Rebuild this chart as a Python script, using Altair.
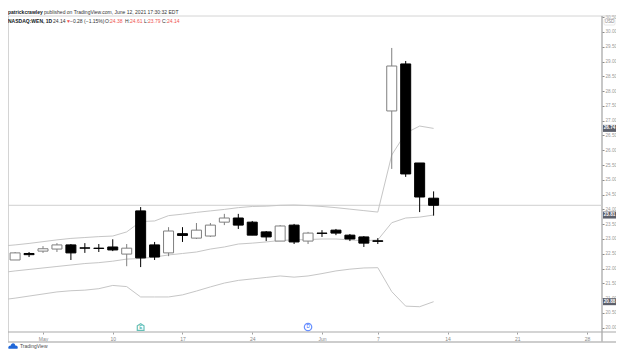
import altair as alt
import pandas as pd

# Bar positions: trading-day index, 0 = May 3 (first labelled tick)
bar_index = list(range(-3, 29))
opens = [22.09, 22.29, 22.51, 22.59, 22.66, 22.80, 22.70, 22.69, 22.73, 22.49, 23.95, 22.80, 22.53, 23.18, 23.03, 23.10,
         23.57, 23.71, 23.57, 23.24, 22.93, 23.47, 22.93, 23.20, 23.30, 23.13, 23.07, 22.94, 27.33, 28.92, 25.57, 24.38]
highs = [22.26, 22.56, 22.56, 22.76, 22.86, 22.83, 22.86, 22.83, 22.99, 22.83, 24.08, 22.90, 23.40, 23.40, 23.54, 23.54,
         23.85, 23.85, 23.61, 23.27, 23.47, 23.51, 23.24, 23.30, 23.34, 23.17, 23.10, 23.03, 29.46, 29.02, 25.57, 24.61]
lows = [22.02, 22.29, 22.39, 22.53, 22.56, 22.29, 22.53, 22.56, 22.59, 22.08, 22.05, 22.29, 22.42, 22.90, 23.00, 23.07,
        23.47, 23.34, 23.13, 22.93, 22.93, 22.83, 22.83, 23.07, 23.13, 22.93, 22.73, 22.83, 25.37, 25.10, 23.91, 23.79]
closes = [22.19, 22.53, 22.47, 22.67, 22.80, 22.53, 22.69, 22.68, 22.63, 22.69, 22.36, 22.39, 23.27, 23.12, 23.30, 23.47,
          23.71, 23.47, 23.13, 23.07, 23.44, 22.90, 23.20, 23.19, 23.20, 23.00, 22.86, 22.92, 28.85, 25.20, 24.42, 24.14]
upper = [22.76, 22.80, 22.85, 22.91, 22.97, 23.02, 23.05, 23.08, 23.10, 23.24, 23.59, 23.61, 23.79, 23.84, 23.90, 23.95,
         24.00, 24.06, 24.10, 24.11, 24.14, 24.15, 24.13, 24.10, 24.06, 24.01, 23.96, 23.91, 25.84, 26.58, 26.82, 26.74]
middle = [21.86, 21.92, 21.97, 22.02, 22.07, 22.12, 22.17, 22.20, 22.25, 22.32, 22.34, 22.39, 22.46, 22.51, 22.56, 22.66,
          22.73, 22.83, 22.86, 22.90, 22.95, 22.97, 22.98, 23.00, 23.00, 22.97, 22.94, 22.97, 23.55, 23.71, 23.74, 23.81]
lower = [20.94, 21.00, 21.07, 21.14, 21.21, 21.25, 21.27, 21.32, 21.43, 21.39, 21.04, 21.04, 21.04, 21.11, 21.24, 21.38,
         21.51, 21.60, 21.65, 21.70, 21.75, 21.71, 21.75, 21.83, 21.92, 21.98, 22.02, 22.03, 21.22, 20.73, 20.71, 20.88]

x_tick_pos = [0, 5, 10, 15, 20, 24, 29, 34, 39]
x_tick_labels = ["May", "10", "17", "24", "Jun", "7", "14", "21", "28"]
y_ticks = [20 + 0.5 * k for k in range(22)]
last_price = [24.14]
tag_values = [26.74, 23.81, 20.88]
event_green = [7]
event_blue = [19]
event_letters = ["E", "D"]

header_1 = [("patrickcrawley", 0, "bold", "#131722"),
            ("published on TradingView.com, June 12, 2021 17:30:32 EDT", 36, "normal", "#333333")]
header_2 = [("NASDAQ:WEN, 1D", 0, "bold", "#131722"), ("24.14", 45, "normal", "#333333"),
            ("▼", 58, "normal", "#ef5350"), ("−0.28 (−1.15%)", 62, "normal", "#333333"),
            ("O:", 97, "normal", "#333333"), ("24.38", 102, "normal", "#ef5350"),
            ("H:", 117, "normal", "#333333"), ("24.61", 122, "normal", "#ef5350"),
            ("L:", 136, "normal", "#333333"), ("23.79", 140, "normal", "#ef5350"),
            ("C:", 154, "normal", "#333333"), ("24.14", 159, "normal", "#ef5350")]

FONT = "Liberation Sans"
INK = "#000000"
HOLLOW = "#7f7f7f"
BAND = "#c6c6c6"
FRAME = "#a9a9a9"
RIGHT_EDGE = 608

df = pd.DataFrame(dict(i=bar_index, o=opens, h=highs, l=lows, c=closes, up=upper, mid=middle, lo=lower))
df["top"] = df[["o", "c"]].max(axis=1)
df["bot"] = df[["o", "c"]].min(axis=1)
df["rising"] = df["c"] >= df["o"]

x_scale = alt.Scale(domain=[-2.509, 40.072], nice=False, zero=False, padding=0)
y_scale = alt.Scale(domain=[19.855, 30.541], nice=False, zero=False, padding=0)
expr = "{" + ",".join(f"'{p}':'{t}'" for p, t in zip(x_tick_pos, x_tick_labels)) + "}[datum.value]"
x_axis = alt.Axis(
    values=x_tick_pos, labelExpr=expr, title=None, grid=False, domain=False, tickColor="#a0a0a0", tickSize=2,
    labelFontSize=5, labelColor="#8a8a8a", labelFont=FONT, labelPadding=2, labelFlush=False)
y_axis = alt.Axis(
    orient="right", values=y_ticks, format=".2f", title=None, grid=False, domain=False, tickColor="#8a8a8a", tickSize=2,
    labelFontSize=4.6, labelColor="#9a9a9a", labelFont=FONT, labelPadding=1, labelOverlap=False)
color_enc = alt.Color("rising:N", scale=alt.Scale(domain=[True, False], range=[HOLLOW, INK]), legend=None)
fill_enc = alt.Fill("rising:N", scale=alt.Scale(domain=[True, False], range=["#ffffff", INK]), legend=None)


def X(field="i"):
    return alt.X(f"{field}:Q", scale=x_scale, axis=x_axis)


def Y(field):
    return alt.Y(f"{field}:Q", scale=y_scale, axis=y_axis)


def rule(x1, y1, x2, y2, color, width=1.0):
    return alt.Chart(pd.DataFrame({"k": [0]})).mark_rule(color=color, strokeWidth=width).encode(
        x=alt.value(x1), x2=alt.value(x2), y=alt.value(y1), y2=alt.value(y2))


def band(col):
    return alt.Chart(df).mark_line(color=BAND, strokeWidth=1, clip=True).encode(x=X(), y=Y(col))


def texts(items, y):
    layers = []
    for t, px, w, col in items:
        layers.append(alt.Chart(pd.DataFrame({"t": [t]})).mark_text(
            align="left", baseline="middle", fontSize=5, font=FONT, fontWeight=w, color=col
        ).encode(text="t:N", x=alt.value(px), y=alt.value(y)))
    return layers


price_line = alt.Chart(pd.DataFrame({"p": last_price})).mark_rule(color="#cfcfcf", strokeWidth=1).encode(y=Y("p"))

wicks = alt.Chart(df).mark_rule(strokeWidth=1, clip=True).encode(x=X(), y=Y("h"), y2="l:Q", color=color_enc)

bodies = alt.Chart(df).mark_bar(size=10, strokeWidth=1, clip=True).encode(
    x=X(), y=Y("top"), y2="bot:Q", fill=fill_enc, stroke=color_enc)

tags = alt.Chart(pd.DataFrame({"v": tag_values})).mark_bar(size=7, orient="horizontal", color="#5d606b").encode(
    y=Y("v"), x=alt.value(595), x2=alt.value(RIGHT_EDGE))
tag_text = alt.Chart(pd.DataFrame({"v": tag_values})).mark_text(
    fontSize=4.6, font=FONT, fontWeight="bold", color="#ffffff", baseline="middle").encode(
    y=Y("v"), x=alt.value(601.5), text=alt.Text("v:Q", format=".2f"))

usd_box = alt.Chart(pd.DataFrame({"k": [0]})).mark_rect(
    fill="#ffffff", stroke="#dddddd", strokeWidth=0.7, cornerRadius=1).encode(
    x=alt.value(596), x2=alt.value(607), y=alt.value(3), y2=alt.value(9))
usd = alt.Chart(pd.DataFrame({"t": ["USD"]})).mark_text(
    fontSize=4.6, font=FONT, color="#8a8a8a", baseline="middle").encode(text="t:N", x=alt.value(601.5), y=alt.value(6))

HOUSE = "M-1,1 L1,1 L1,-0.35 L0,-1 L-1,-0.35 Z"
green_pt = alt.Chart(pd.DataFrame({"i": event_green})).mark_point(
    shape=HOUSE, size=45, stroke="#26a69a", strokeWidth=1.2, fill="#ffffff", filled=True).encode(
    x=X(), y=alt.value(311))
green_txt = alt.Chart(pd.DataFrame({"i": event_green, "t": event_letters[:1]})).mark_text(
    fontSize=4.5, font=FONT, color="#26a69a", baseline="middle").encode(
    x=X(), y=alt.value(311.5), text="t:N")
blue_pt = alt.Chart(pd.DataFrame({"i": event_blue})).mark_point(
    shape="circle", size=55, stroke="#2962ff", strokeWidth=1.2, fill="#ffffff", filled=True).encode(
    x=X(), y=alt.value(311))
blue_txt = alt.Chart(pd.DataFrame({"i": event_blue, "t": event_letters[1:]})).mark_text(
    fontSize=4.5, font=FONT, color="#2962ff", baseline="middle").encode(
    x=X(), y=alt.value(311), text="t:N")

CLOUD = "M-1,0.6 C-1.2,0.1 -0.8,-0.1 -0.55,-0.05 C-0.4,-0.8 0.45,-0.8 0.5,-0.1 C0.9,-0.2 1.2,0.2 1,0.6 Z"
logo = alt.Chart(pd.DataFrame({"k": [0]})).mark_point(
    shape=CLOUD, size=80, fill="#1e66d8", filled=True, opacity=1, strokeWidth=0).encode(
    x=alt.value(5), y=alt.value(330))
brand = alt.Chart(pd.DataFrame({"t": ["TradingView"]})).mark_text(
    align="left", baseline="middle", fontSize=5, font=FONT, color="#4a4a4a").encode(
    text="t:N", x=alt.value(12), y=alt.value(329.5))

layers = [
    rule(0, 0, RIGHT_EDGE, 0, "#d4d4d4"),
    rule(0, 0, 0, 326, FRAME),
    rule(594, 0, 594, 326, "#8f8f8f"),
    rule(0, 316, RIGHT_EDGE, 316, "#a9a9a9"),
    rule(0, 326, RIGHT_EDGE, 326, "#bdbdbd", 1.5),
    price_line, band("up"), band("mid"), band("lo"), wicks, bodies,
    tags, tag_text, usd_box, usd, green_pt, green_txt, blue_pt, blue_txt, logo, brand,
]
layers += texts(header_1, -4.5)
layers += texts(header_2, 5)

chart = alt.layer(*layers).properties(
    width=594, height=316,
    padding={"left": 0, "top": 8, "right": 14, "bottom": 17},
    autosize=alt.AutoSizeParams(type="none"),
    background="#ffffff",
).configure_view(stroke=None)

chart.save("out.html", embed_options={"renderer": "svg", "actions": False})
